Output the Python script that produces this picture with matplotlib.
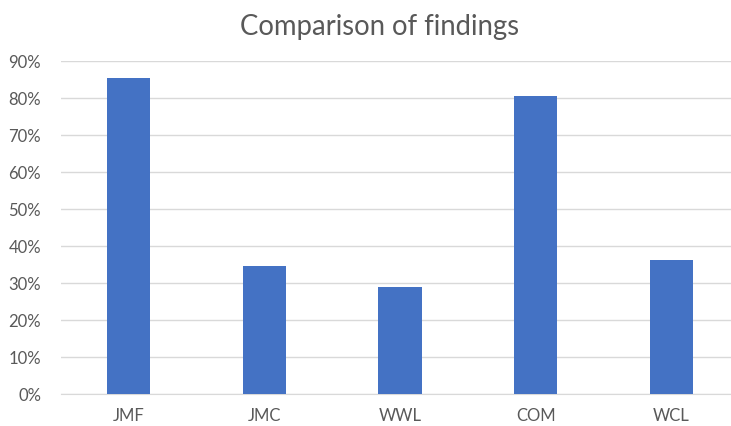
import matplotlib
matplotlib.use('Agg')
import matplotlib.pyplot as plt
from matplotlib.ticker import PercentFormatter

categories = ['JMF', 'JMC', 'WWL', 'COM', 'WCL']
values = [85.3, 34.5, 29.0, 80.6, 36.3]
yticks = [0, 10, 20, 30, 40, 50, 60, 70, 80, 90]

plt.rcParams['font.family'] = ['Lato', 'DejaVu Sans']
text_col = '#595959'

fig = plt.figure(figsize=(7.31, 4.26), dpi=100)
ax = fig.add_axes([0.0829, 0.0751, 0.9286, 0.7817])

ax.bar(categories, values, width=0.317, color='#4472C4', zorder=3)

ax.set_ylim(0, 90)
ax.set_xlim(-0.5, len(categories) - 0.5)
ax.set_yticks(yticks)
ax.yaxis.set_major_formatter(PercentFormatter(decimals=0))
ax.grid(axis='y', color='#D9D9D9', linewidth=1, zorder=0)
ax.tick_params(length=0, labelsize=12, colors=text_col, pad=14)
ax.tick_params(axis='x', pad=10)
for s in ['top', 'right', 'left']:
    ax.spines[s].set_visible(False)
ax.spines['bottom'].set_color('#D9D9D9')
ax.set_axisbelow(True)

fig.text(0.519, 0.937, 'Comparison of findings', ha='center', va='center',
         fontsize=19.8, color=text_col)

fig.savefig('out.png', dpi=100)
